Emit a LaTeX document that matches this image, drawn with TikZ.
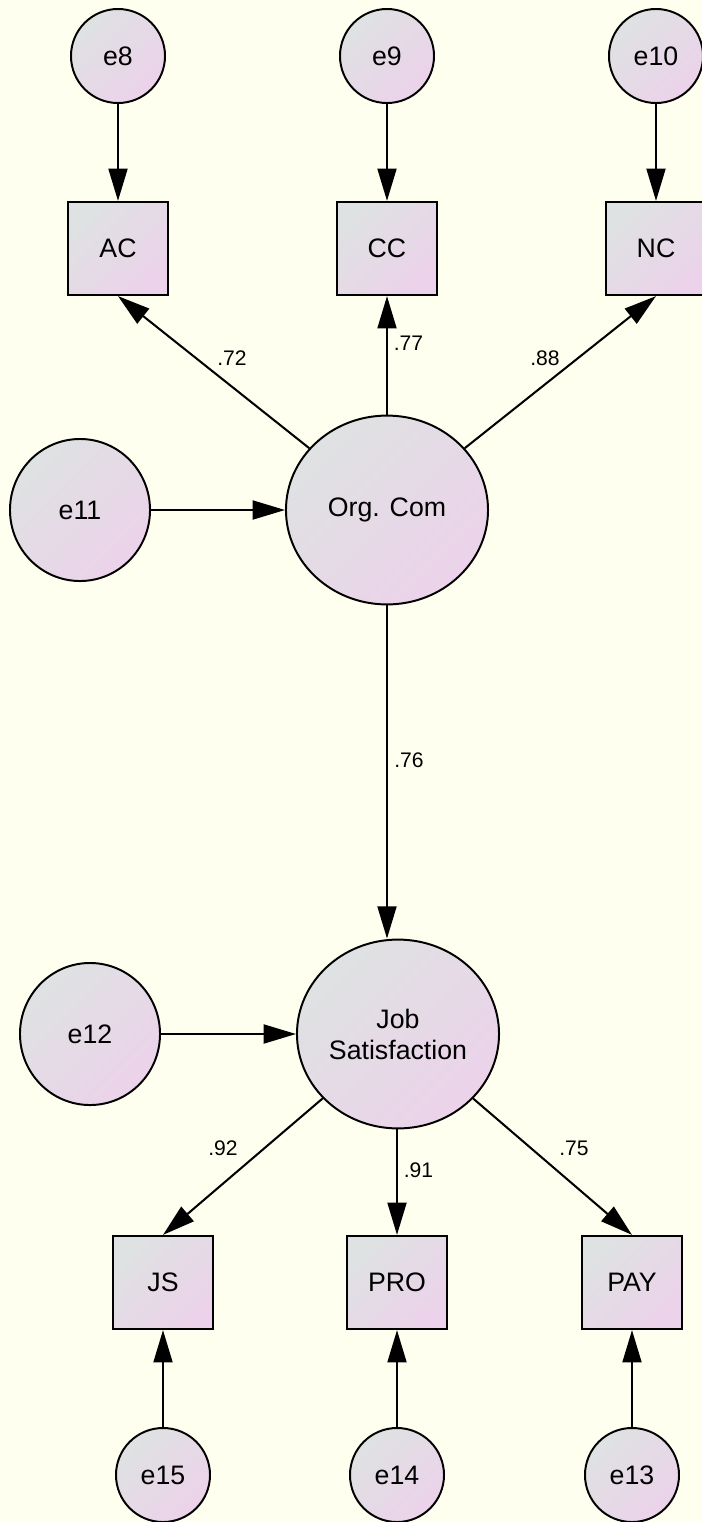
\documentclass[tikz,border=0pt]{standalone}
\usepackage{fontspec}
\setmainfont{Liberation Sans}
\usetikzlibrary{arrows.meta,shapes.geometric}
\definecolor{paper}{RGB}{255,255,240}
\definecolor{shadetl}{RGB}{222,226,226}
\definecolor{shadebr}{RGB}{236,210,234}

\begin{document}
\begin{tikzpicture}[x=0.025cm,y=-0.025cm,
	shaded/.style={draw,line width=1.4pt,top color=shadetl,bottom color=shadebr,shading angle=45,
		inner sep=0pt,align=center,font=\fontsize{19}{22}\selectfont},
	latent/.style={shaded,ellipse,minimum width=5.05cm,minimum height=4.72cm},
	disturb/.style={shaded,ellipse,minimum width=3.5cm,minimum height=3.55cm},
	errvar/.style={shaded,circle,minimum size=2.35cm},
	indicator/.style={shaded,rectangle,minimum width=2.52cm,minimum height=2.33cm},
	path/.style={line width=1.45pt,-{Triangle[length=23pt,width=13.5pt]}},
	coef/.style={font=\fontsize{15}{17}\selectfont,inner sep=0pt}]
	\useasboundingbox (0,0) rectangle (702,1522);
	\fill[paper] (0,0) rectangle (702,1522);

	% error terms, top row
	\node[errvar] (e8) at (118,56) {e8};
	\node[errvar] (e9) at (387,56) {e9};
	\node[errvar] (e10) at (656,56) {e10};

	% commitment indicators
	\node[indicator] (ac) at (118,248.5) {AC};
	\node[indicator] (cc) at (387,248.5) {CC};
	\node[indicator] (nc) at (656,248.5) {NC};

	% latent variables
	\node[latent] (org) at (387,510) {Org. Com};
	\node[disturb] (e11) at (80,510) {e11};
	\node[latent] (job) at (398,1034) {Job\\Satisfaction};
	\node[disturb] (e12) at (90,1034) {e12};

	% satisfaction indicators
	\node[indicator] (js) at (163,1282.5) {JS};
	\node[indicator] (pro) at (397,1282.5) {PRO};
	\node[indicator] (pay) at (632,1282.5) {PAY};

	% error terms, bottom row
	\node[errvar] (e15) at (163,1475) {e15};
	\node[errvar] (e14) at (397,1475) {e14};
	\node[errvar] (e13) at (632,1475) {e13};

	\draw[path] (e8) -- (ac);
	\draw[path] (e9) -- (cc);
	\draw[path] (e10) -- (nc);
	\draw[path] (org) -- (ac.south);
	\draw[path] (org) -- (cc);
	\draw[path] (org) -- (nc.south);
	\draw[path] (e11) -- (org);
	\draw[path] (org.south) -- (org.south |- job.north);
	\draw[path] (e12) -- (job);
	\draw[path] (job) -- (js.north);
	\draw[path] (job.south -| pro) -- (pro);
	\draw[path] (job) -- (pay.north);
	\draw[path] (e15) -- (js);
	\draw[path] (e14) -- (pro);
	\draw[path] (e13) -- (pay);

	\node[coef] (c72) at (232,358) {.72};
	\node[coef] (c77) at (408.5,343) {.77};
	\node[coef] (c88) at (545,358) {.88};
	\node[coef] (c76) at (409,760) {.76};
	\node[coef] (c92) at (223,1148) {.92};
	\node[coef] (c91) at (418.5,1170) {.91};
	\node[coef] (c75) at (574,1148) {.75};
\end{tikzpicture}
\end{document}
